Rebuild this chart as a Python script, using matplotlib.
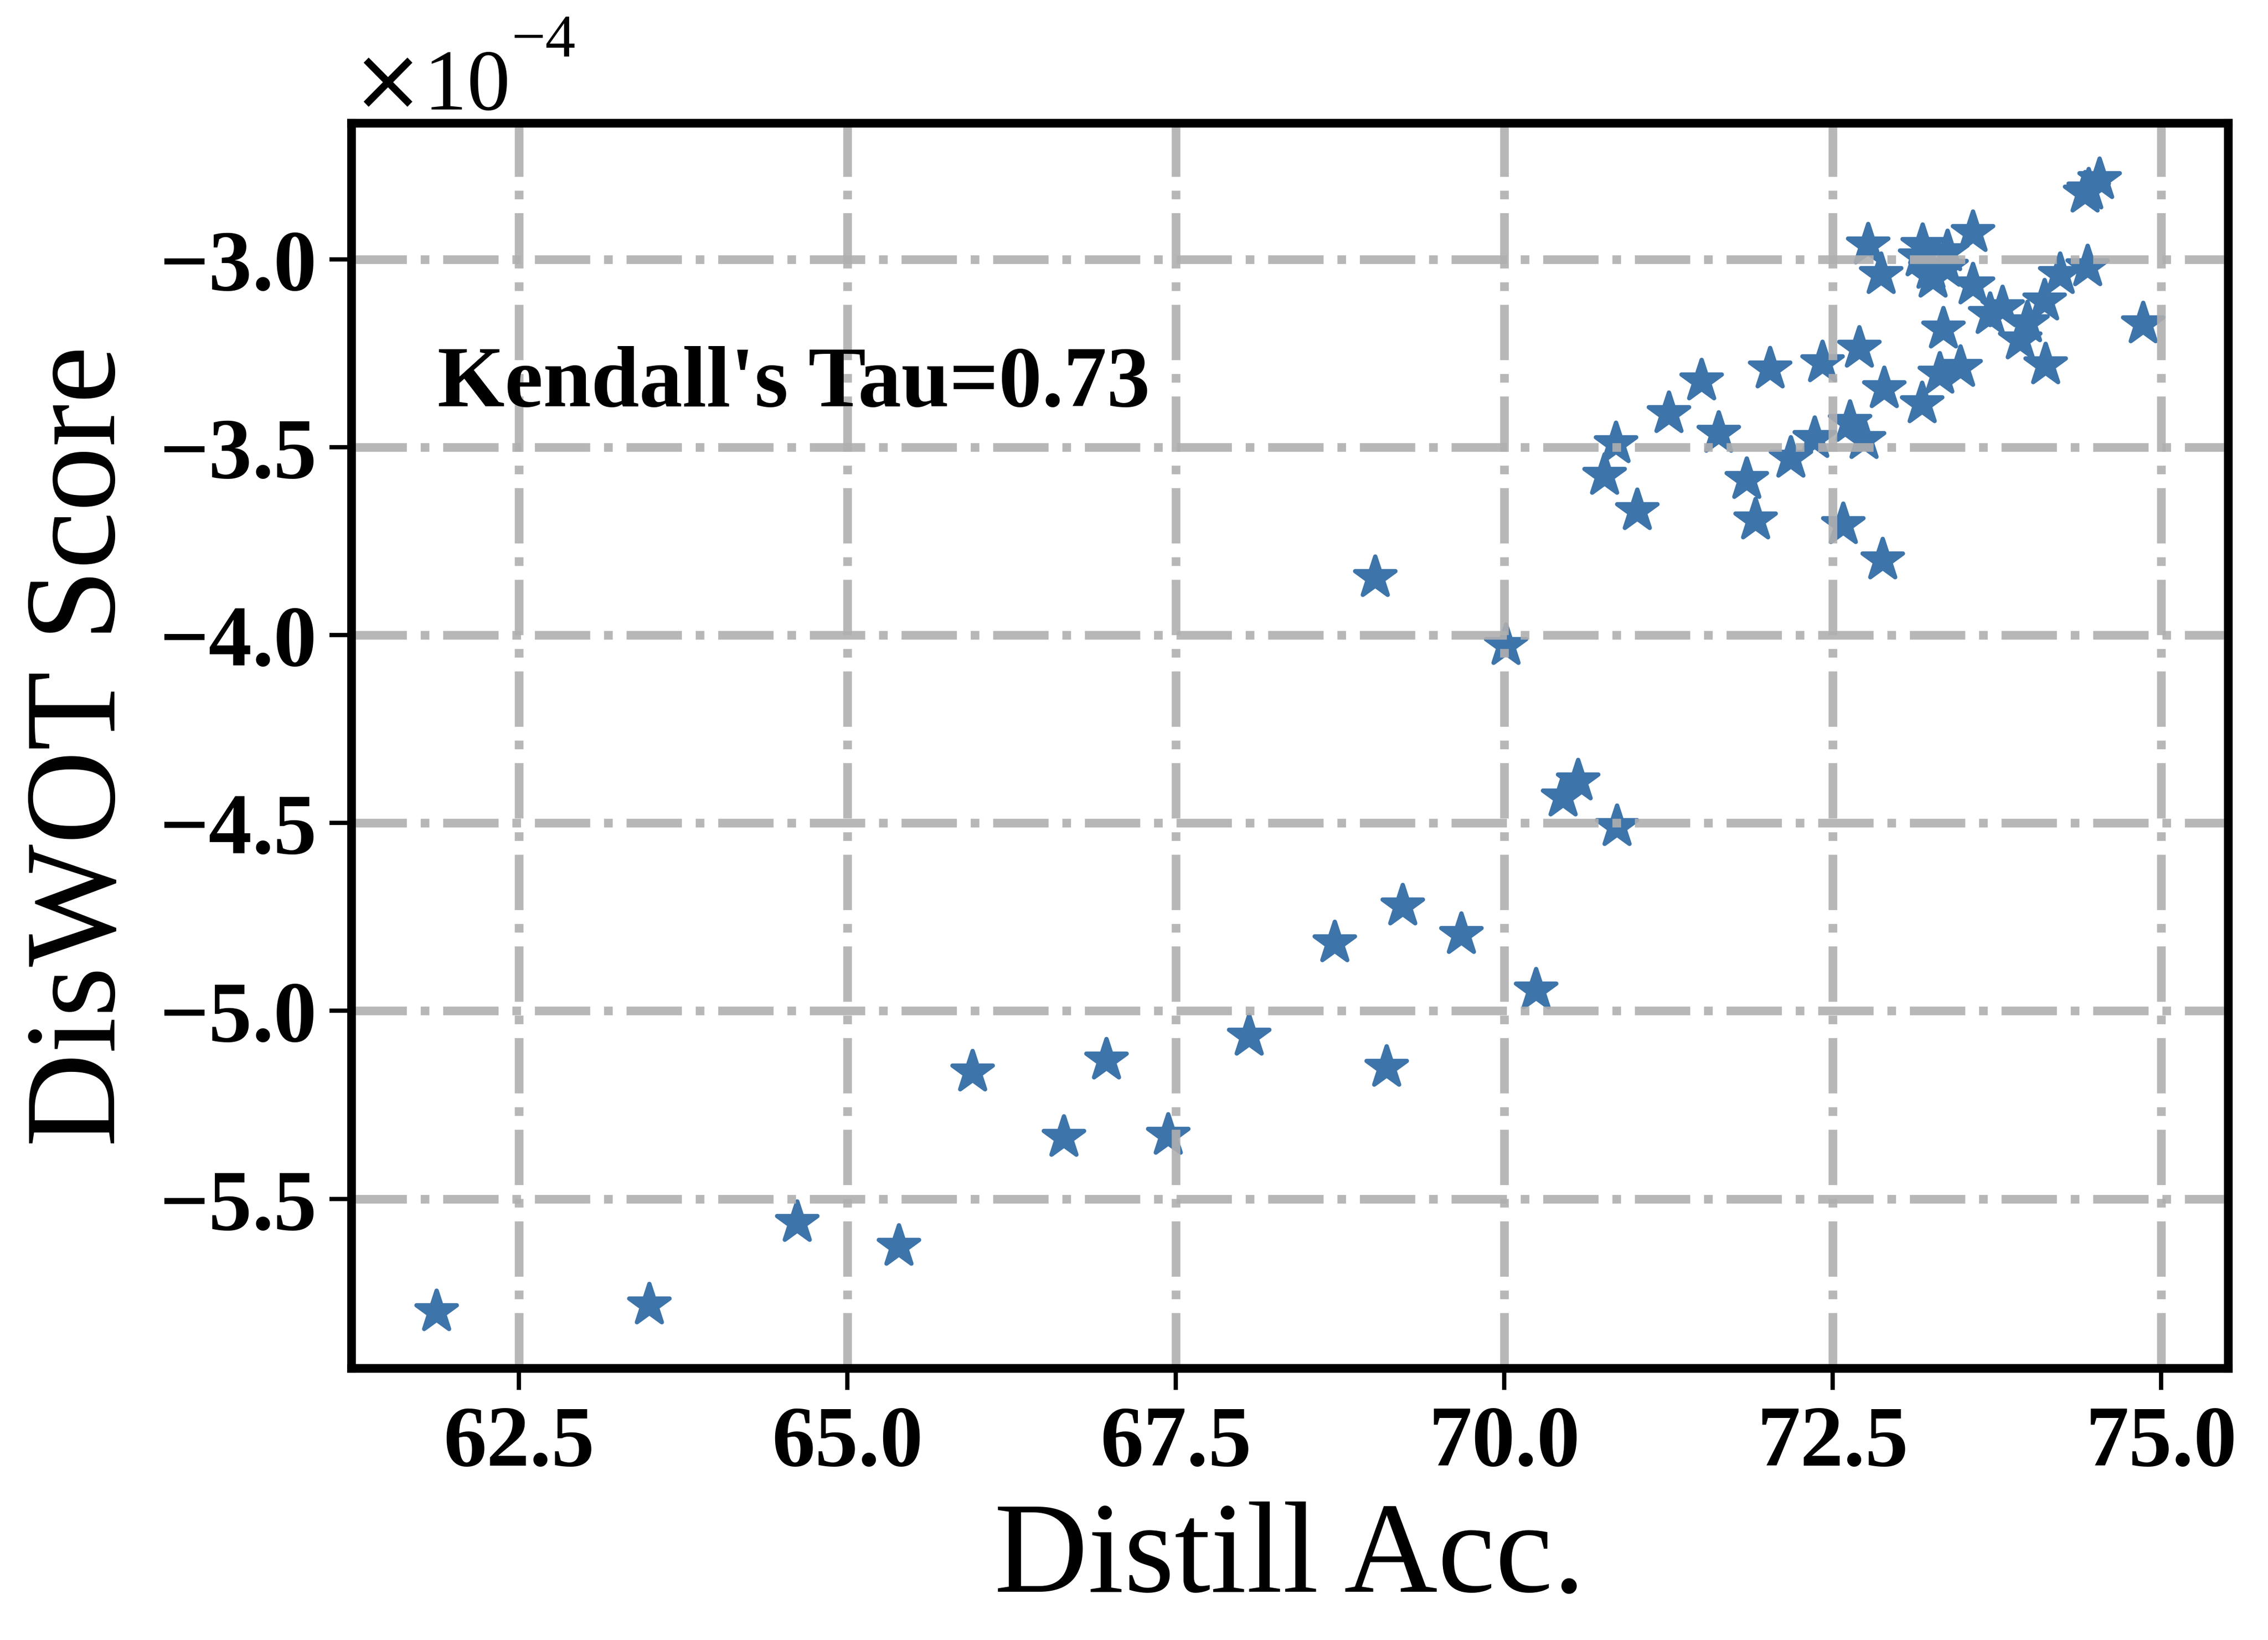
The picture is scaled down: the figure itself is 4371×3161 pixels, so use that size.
import matplotlib
matplotlib.use('Agg')
import matplotlib.pyplot as plt

# distillation accuracy (%) vs DisWOT score (units of 1e-4)
distill_acc = [
    61.874, 63.491, 64.617, 65.392, 65.953, 66.645, 66.972, 67.440, 68.055, 68.710,
    69.103, 69.224, 69.673, 70.242, 70.856, 70.447, 70.562, 69.015, 70.013,
    70.85, 70.76, 71.01, 71.25, 71.50, 71.63, 71.845, 71.91, 72.02, 72.18,
    72.36, 72.42, 72.58, 72.63, 72.70, 72.736, 72.77, 72.865, 72.88, 72.89,
    73.163, 73.18, 73.183, 73.245, 73.26, 73.315, 73.34, 73.363, 73.374, 73.47,
    73.565, 73.565, 73.697, 73.793, 73.925, 73.98, 74.11, 74.12, 74.23, 74.42,
    74.44, 74.447, 74.53, 74.86,
]
score_e4 = [
    -5.800, -5.782, -5.563, -5.626, -5.162, -5.336, -5.131, -5.331, -5.067, -4.819,
    -5.150, -4.721, -4.797, -4.944, -4.509, -4.430, -4.388, -3.846, -4.028,
    -3.490, -3.574, -3.669, -3.411, -3.323, -3.463, -3.586, -3.693, -3.291, -3.529,
    -3.476, -3.275, -3.706, -3.434, -3.236, -3.479, -2.961, -3.040, -3.800, -3.344,
    -2.994, -3.384, -2.963, -3.026, -3.050, -3.305, -3.185, -3.021, -2.979, -3.288,
    -2.928, -3.068, -3.146, -3.129, -3.214, -3.169, -3.111, -3.280, -3.041, -2.824,
    -3.019, -2.815, -2.788, -3.171,
]
kendall_tau = 0.73

plt.rcParams['font.family'] = ['Liberation Serif', 'DejaVu Serif']
plt.rcParams['xtick.labelsize'] = 20
plt.rcParams['ytick.labelsize'] = 20

fig = plt.figure(figsize=(4371 / 600, 3162 / 600), dpi=600)
ax = fig.add_axes([0.1549, 0.1657, 0.8275, 0.759])

score = [v * 1e-4 for v in score_e4]
ax.scatter(distill_acc, score, marker='*', s=96, color='#3d74aa', linewidths=1)

ax.grid(True, linestyle='-.', linewidth=2, color='#b0b0b0', alpha=0.9)
ax.ticklabel_format(axis='y', style='sci', scilimits=(0, 0), useMathText=True)

for sp in ax.spines.values():
    sp.set_linewidth(2)
ax.tick_params(length=5, width=1)
for lab in ax.get_xticklabels() + ax.get_yticklabels():
    lab.set_fontweight('bold')

# scale factor drawn by hand so the exponent sits high like the original
ax.yaxis.get_offset_text().set_visible(False)
ax.text(0.0, 1.0113, r'$\times$10', transform=ax.transAxes, fontsize=20,
        va='baseline', ha='left')
ax.text(0.0852, 1.0538, '\u22124', transform=ax.transAxes, fontsize=14,
        va='baseline', ha='left')

ax.set_xlabel('Distill Acc.', fontsize=30)
ax.set_ylabel('DisWOT Score', fontsize=30)
ax.text(0.046, 0.773, f"Kendall's Tau={kendall_tau}", transform=ax.transAxes,
        fontsize=20, fontweight='bold', va='baseline', ha='left')

fig.savefig('out.png', dpi=600)
